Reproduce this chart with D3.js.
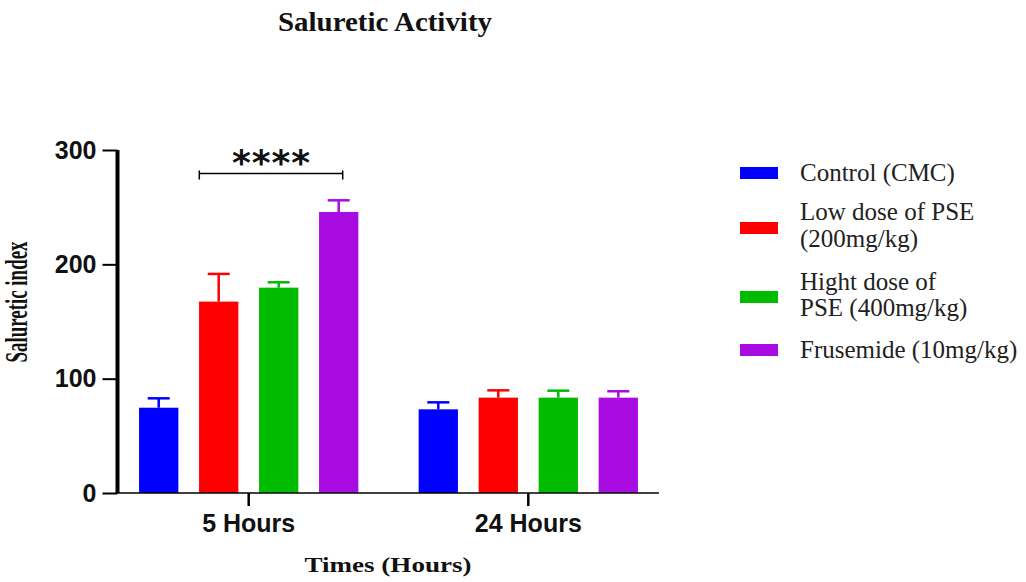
<!DOCTYPE html>
<html>
<head>
<meta charset="utf-8">
<script src="https://cdn.jsdelivr.net/npm/d3@7"></script>
<style>
  html, body { margin: 0; padding: 0; background: #ffffff; }
  svg { display: block; }
</style>
</head>
<body>
<svg id="chart" width="1026" height="582"></svg>
<script>
// Saluretic index (mean ± SEM) at two time points for four treatment groups
const timePoints = ["5 Hours", "24 Hours"];
const groups = ["Control (CMC)", "Low dose of PSE (200mg/kg)", "Hight dose of PSE (400mg/kg)", "Frusemide (10mg/kg)"];
const legendLines = [["Control (CMC)"], ["Low dose of PSE", "(200mg/kg)"], ["Hight dose of", "PSE (400mg/kg)"], ["Frusemide (10mg/kg)"]];
const groupColors = ["#0000ff", "#ff0000", "#00bb00", "#a80ce0"];
const mean5h = [74.6, 167.4, 179.6, 245.8];
const sem5h = [8.2, 24.2, 4.7, 10.2];
const mean24h = [73.2, 83.4, 83.4, 83.4];
const sem24h = [6.1, 6.4, 6.1, 5.6];
const yTicks = [0, 100, 200, 300];
const significance = "****";

const rows = [
  ...groups.map((g, i) => ({ time: timePoints[0], group: g, mean: mean5h[i], sem: sem5h[i], color: groupColors[i] })),
  ...groups.map((g, i) => ({ time: timePoints[1], group: g, mean: mean24h[i], sem: sem24h[i], color: groupColors[i] }))
];

const svg = d3.select("#chart");
const sans = "'Liberation Sans', Arial, sans-serif";
const serif = "'Liberation Serif', 'Times New Roman', serif";

const y = d3.scaleLinear().domain([0, 300]).range([493, 150]);
const x0 = d3.scaleBand().domain(timePoints).range([118, 659]).paddingInner(0.1416).paddingOuter(0.0383);
const x1 = d3.scaleBand().domain(groups).range([0, x0.bandwidth()]).paddingInner(0.345).paddingOuter(0.1725);

// Bars
const plot = svg.append("g");
plot.selectAll("rect.bar")
  .data(rows)
  .join("rect")
  .attr("class", "bar")
  .attr("x", d => x0(d.time) + x1(d.group))
  .attr("y", d => y(d.mean))
  .attr("width", x1.bandwidth())
  .attr("height", d => y(0) - y(d.mean))
  .attr("fill", d => d.color);

// Error bars (upper only)
const capHalf = 11;
const err = plot.selectAll("g.err").data(rows).join("g").attr("class", "err")
  .attr("stroke", d => d.color).attr("stroke-width", 2.5).attr("fill", "none");
err.append("line")
  .attr("x1", d => x0(d.time) + x1(d.group) + x1.bandwidth() / 2)
  .attr("x2", d => x0(d.time) + x1(d.group) + x1.bandwidth() / 2)
  .attr("y1", d => y(d.mean))
  .attr("y2", d => y(d.mean + d.sem));
err.append("line")
  .attr("x1", d => x0(d.time) + x1(d.group) + x1.bandwidth() / 2 - capHalf)
  .attr("x2", d => x0(d.time) + x1(d.group) + x1.bandwidth() / 2 + capHalf)
  .attr("y1", d => y(d.mean + d.sem))
  .attr("y2", d => y(d.mean + d.sem));

// Y axis
const yAxis = svg.append("g").attr("transform", "translate(117.5,0)")
  .call(d3.axisLeft(y).tickValues(yTicks).tickSize(15).tickPadding(6).tickFormat(d3.format("d")));
yAxis.select(".domain").attr("d", `M0,${y(300)}V${y(0)}`).attr("stroke", "#000").attr("stroke-width", 4);
yAxis.selectAll(".tick line").attr("stroke", "#000").attr("stroke-width", 2);
yAxis.selectAll(".tick text").attr("font-family", sans).attr("font-weight", "bold").attr("font-size", 25).attr("fill", "#111");

// X axis
const xAxis = svg.append("g").attr("transform", `translate(0,${y(0)})`)
  .call(d3.axisBottom(x0).tickSize(13).tickPadding(8));
xAxis.select(".domain").attr("d", "M115.5,0H659").attr("stroke", "#000").attr("stroke-width", 1.5);
xAxis.selectAll(".tick line").attr("stroke", "#000").attr("stroke-width", 2.5);
xAxis.selectAll(".tick text").attr("font-family", sans).attr("font-weight", "bold").attr("font-size", 25).attr("fill", "#111");

// Significance bracket between control and frusemide at 5 hours
const bx1 = 199.3, bx2 = 342.7, by = 173.5;
const bracket = svg.append("g").attr("stroke", "#000").attr("stroke-width", 1.5);
bracket.append("line").attr("x1", bx1).attr("x2", bx2).attr("y1", by).attr("y2", by);
bracket.append("line").attr("x1", bx1).attr("x2", bx1).attr("y1", by - 3).attr("y2", by + 6);
bracket.append("line").attr("x1", bx2).attr("x2", bx2).attr("y1", by - 3).attr("y2", by + 6);
svg.append("text")
  .attr("x", (bx1 + bx2) / 2).attr("y", 175)
  .attr("text-anchor", "middle")
  .attr("font-family", "'DejaVu Sans', sans-serif").attr("font-weight", "bold").attr("font-size", 36)
  .attr("textLength", 78).attr("lengthAdjust", "spacing")
  .attr("fill", "#111")
  .text(significance);

// Titles
svg.append("text")
  .attr("x", 385).attr("y", 31).attr("text-anchor", "middle")
  .attr("font-family", serif).attr("font-weight", "bold").attr("font-size", 27)
  .attr("textLength", 214).attr("lengthAdjust", "spacingAndGlyphs")
  .attr("fill", "#111").text("Saluretic Activity");

svg.append("text")
  .attr("x", 388).attr("y", 572).attr("text-anchor", "middle")
  .attr("font-family", serif).attr("font-weight", "bold").attr("font-size", 22)
  .attr("textLength", 167).attr("lengthAdjust", "spacingAndGlyphs")
  .attr("fill", "#111").text("Times (Hours)");

svg.append("text")
  .attr("transform", "translate(27,302) rotate(-90)")
  .attr("text-anchor", "middle")
  .attr("font-family", serif).attr("font-weight", "bold").attr("font-size", 31)
  .attr("textLength", 121).attr("lengthAdjust", "spacingAndGlyphs")
  .attr("fill", "#111").text("Saluretic index");

// Legend
const swatchY = [173, 228, 297, 350];
const legendBaselines = [[181], [220, 247], [290, 316], [358]];
const legend = svg.append("g");
groups.forEach((g, i) => {
  legend.append("rect")
    .attr("x", 740).attr("y", swatchY[i] - 6).attr("width", 38).attr("height", 12)
    .attr("fill", groupColors[i]);
  legendLines[i].forEach((line, j) => {
    legend.append("text")
      .attr("x", 800).attr("y", legendBaselines[i][j])
      .attr("font-family", serif).attr("font-size", 25).attr("fill", "#222")
      .text(line);
  });
});
</script>
</body>
</html>
